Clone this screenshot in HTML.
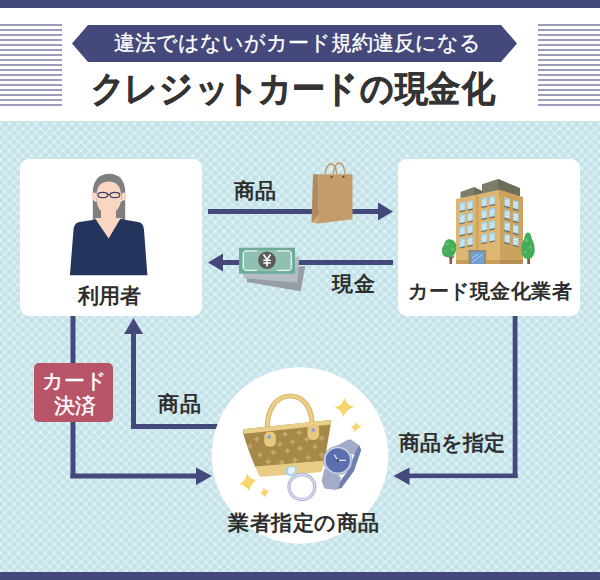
<!DOCTYPE html>
<html lang="ja">
<head>
<meta charset="utf-8">
<style>
html,body{margin:0;padding:0;}
body{width:600px;height:580px;position:relative;overflow:hidden;background:#fff;font-family:"Liberation Sans",sans-serif;}
.abs{position:absolute;}
#topbar{left:0;top:0;width:600px;height:8px;background:#45487a;}
#botbar{left:0;top:572px;width:600px;height:8px;background:#45487a;}
.stripes{top:24px;width:62px;height:82px;background:repeating-linear-gradient(to bottom,#9c9dbd 0,#9c9dbd 2px,transparent 2px,transparent 5px);}
#panel{left:0;top:121px;width:600px;height:451px;background-color:#c8e2e8;}
.txt{position:absolute;white-space:nowrap;color:#2e2e2e;font-weight:bold;line-height:1;}
.box{position:absolute;background:#fff;border-radius:9px;}
</style>
</head>
<body>
<div id="topbar" class="abs"></div>
<div class="abs stripes" style="left:0"></div>
<div class="abs stripes" style="left:538px"></div>

<svg class="abs" style="left:0;top:0" width="600" height="120">
<polygon points="72,43.5 88,25 501,25 517,43.5 501,62 88,62" fill="#45487a"/>
</svg>
<div class="txt" style="left:113.5px;top:32px;font-size:21px;color:#fff;font-weight:normal;-webkit-text-stroke:0.35px #fff;">違法ではないがカード規約違反になる</div>
<div class="txt" style="left:90px;top:71px;font-size:36px;color:#333;transform:scaleX(0.922);transform-origin:0 0;-webkit-text-stroke:0.6px #333;"><span style="position:relative;left:0.8px">ク</span><span style="position:relative;left:0.4px">レ</span><span style="position:relative;left:0.8px">ジ</span><span style="position:relative;left:3px">ッ</span><span style="position:relative;left:-1.4px">ト</span><span style="position:relative;left:-3.3px">カ</span><span style="position:relative;left:-3.3px">ー</span><span style="position:relative;left:-3.8px">ド</span><span style="position:relative;left:-2.5px">の</span><span style="position:relative;left:-1.1px">現</span><span style="position:relative;left:-2.2px">金</span><span style="position:relative;left:-0.4px">化</span></div>

<div id="panel" class="abs">
<svg width="600" height="451" style="position:absolute;left:0;top:0">
<defs>
<pattern id="pt" patternUnits="userSpaceOnUse" width="8.94" height="8.94" x="0.5" y="3.1">
<rect x="-1" y="-1" width="11" height="11" fill="#c7e2e7"/>
<path d="M-2,2 L2,-2 M-2,10.94 L10.94,-2 M6.94,10.94 L10.94,6.94" stroke="#e0fbff" stroke-opacity="0.42" stroke-width="1.5"/>
<path d="M-2,6.94 L2,10.94 M-2,-2 L10.94,10.94 M6.94,-2 L10.94,2" stroke="#e0fbff" stroke-opacity="0.42" stroke-width="1.5"/>
<g fill="#dcf6fb"><circle cx="0" cy="0" r="1.45"/><circle cx="8.94" cy="0" r="1.45"/><circle cx="0" cy="8.94" r="1.45"/><circle cx="8.94" cy="8.94" r="1.45"/><circle cx="4.47" cy="4.47" r="1.45"/></g>
</pattern>
</defs>
<rect width="600" height="451" fill="url(#pt)"/>
</svg>
</div>
<div id="botbar" class="abs"></div>

<!-- boxes -->
<div class="box" style="left:20px;top:159px;width:182px;height:157px;"></div>
<div class="box" style="left:398px;top:159px;width:182px;height:157px;"></div>

<!-- arrows & circle -->
<svg class="abs" style="left:0;top:0" width="600" height="580">
<g fill="#45487a">
<!-- top arrow -->
<rect x="208" y="209" width="171" height="5"/>
<polygon points="378,202.5 393,211.5 378,220.5"/>
<!-- cash arrow -->
<rect x="222" y="260" width="171" height="5"/>
<polygon points="223,253.5 208,262.5 223,271.5"/>
<!-- left down-right path -->
<rect x="70.5" y="316" width="5" height="162"/>
<rect x="70.5" y="473.5" width="126" height="5"/>
<polygon points="196,467.5 212,476 196,485"/>
<!-- up arrow path -->
<rect x="131" y="333" width="5" height="96"/>
<rect x="131" y="424" width="90" height="5"/>
<polygon points="124,334 133.5,318 143,334"/>
<!-- right path -->
<rect x="512.7" y="316" width="4.8" height="162"/>
<rect x="408" y="473.5" width="109.5" height="4.6"/>
<polygon points="409.5,467.5 393.5,476 409.5,485"/>
</g>
<circle cx="300" cy="455.5" r="88.3" fill="#fff"/>
</svg>


<!-- icons -->
<svg class="abs" style="left:0;top:0" width="600" height="580">
<!-- person -->
<g id="person">
<path d="M92.8,221 L92.8,192 C92.8,180 100,173.8 109,173.8 C118.5,173.8 125.2,180 125.2,192 L125.2,221 Z" fill="#7f7f7f"/>
<ellipse cx="94.3" cy="196.5" rx="2.6" ry="4" fill="#f9d6c1"/>
<ellipse cx="123.9" cy="196.5" rx="2.6" ry="4" fill="#f9d6c1"/>
<path d="M96.4,197 C96.4,186 101,181.5 108.8,181.5 C116.6,181.5 121.2,186 121.2,197 C121.2,204 119,208 116,211 L116,224 L101,224 L101,211 C98,208 96.4,204 96.4,197 Z" fill="#f9d6c1"/>
<polygon points="95,218 122,218 108.6,240" fill="#f9d6c1"/>
<circle cx="95.6" cy="200.4" r="1" fill="#fff"/>
<circle cx="121.6" cy="200.4" r="1" fill="#fff"/>
<g fill="none" stroke="#3c3d6c" stroke-width="1.2">
<ellipse cx="102.8" cy="195" rx="4.9" ry="2.7"/>
<ellipse cx="114.9" cy="195" rx="4.9" ry="2.7"/>
<path d="M107.7,194.5 L110,194.5"/>
</g>
<path d="M95.8,219.6 L108.6,238.5 L120.2,219 L138,222 C143,223 143.5,226 144,230 L147.4,275.2 L69.9,275.2 L73.5,230 C74,226 75,223 79.5,222 Z" fill="#25345d"/>
</g>

<!-- shopping bag -->
<g id="sbag">
<path d="M325.5,177 C325,170 327,164 331,164 C335,164 337,170 336.5,177" fill="none" stroke="#c39a6b" stroke-width="1.4"/>
<path d="M333.2,177 C333,169 336,163 339,163 C343,163 345.5,169 344.7,177" fill="none" stroke="#c39a6b" stroke-width="1.4"/>
<polygon points="313,174.3 318.2,174.3 318.2,223.4 311.5,222.2" fill="#b48a5c"/>
<polygon points="318.2,174.3 352.5,174.3 352.5,219.2 318.2,223.4" fill="#c49b6b"/>
<polygon points="311.5,222.2 318.2,215 318.2,223.4" fill="#d0a878"/>
<circle cx="331.6" cy="176.9" r="1.1" fill="#5d4a36"/>
<circle cx="343.5" cy="176.9" r="1.1" fill="#5d4a36"/>
</g>

<!-- money -->
<g id="money">
<polygon points="246.7,272 305.3,266 300.7,291.3 246.7,282" fill="#959ea4"/>
<polygon points="243.3,270 299.3,256.3 297.3,282.7 243.3,278" fill="#b4bdc3"/>
<rect x="239" y="247.7" width="56" height="26" fill="#6aab9b"/>
<path d="M244.5,250 L290,250 L292.3,252.6 L292.3,268.7 L290,271.3 L244.5,271.3 L242.2,268.7 L242.2,252.6 Z" fill="#8fc0b1"/>
<path d="M257,251 L245,251 L243.3,253 L243.3,268.3 L245,270.3 L257,270.3 M277,251 L289.5,251 L291.2,253 L291.2,268.3 L289.5,270.3 L277,270.3" fill="none" stroke="#fff" stroke-width="1"/>
<circle cx="267" cy="260.3" r="8.8" fill="#5b5b5b"/>
<path d="M263.5,254.5 L267,259.5 L270.5,254.5 M267,259.5 L267,266.5 M263.3,260.3 L270.7,260.3 M263.3,263 L270.7,263" fill="none" stroke="#fff" stroke-width="1.6"/>
</g>

<!-- building -->
<g id="building">
<polygon points="460.5,192 474,187 482,191 482,199 460.5,199" fill="#7e7d69"/>
<polygon points="474,187 482,191 482,199 474,199" fill="#6e6d5a"/>
<polygon points="482,184.3 498,179 520,188.3 520,197 482,197" fill="#7e7d69"/>
<polygon points="498,179 520,188.3 520,197 498,197" fill="#6e6d5a"/>
<polygon points="456,199 499.3,189.7 499.3,264 456,264" fill="#ddb672"/>
<polygon points="499.3,189.7 523,197 523,264 499.3,264" fill="#cca35e"/>
<rect x="475.5" y="196" width="3.5" height="54" fill="#cfa660"/>
<rect x="456" y="260" width="43.3" height="4" fill="#c69e5b"/>
<rect x="499.3" y="260" width="23.7" height="4" fill="#b48e52"/>
<g id="winL"><polygon points="459.7,202.70 464.9,201.66 464.9,210.06 459.7,211.10" fill="#9fd6f6"/><path d="M460.09999999999997,205.90 L464.5,203.90 M460.09999999999997,207.90 L464.5,205.90 M460.09999999999997,209.90 L464.5,207.90" stroke="#f4fbff" stroke-width="0.8"/><polygon points="459.4,211.10 465.2,210.06 465.2,211.26 459.4,212.30" fill="#6f6e60"/><polygon points="459.7,214.80 464.9,213.76 464.9,222.16 459.7,223.20" fill="#9fd6f6"/><path d="M460.09999999999997,218.00 L464.5,216.00 M460.09999999999997,220.00 L464.5,218.00 M460.09999999999997,222.00 L464.5,220.00" stroke="#f4fbff" stroke-width="0.8"/><polygon points="459.4,223.20 465.2,222.16 465.2,223.36 459.4,224.40" fill="#6f6e60"/><polygon points="459.7,226.90 464.9,225.86 464.9,234.26 459.7,235.30" fill="#9fd6f6"/><path d="M460.09999999999997,230.10 L464.5,228.10 M460.09999999999997,232.10 L464.5,230.10 M460.09999999999997,234.10 L464.5,232.10" stroke="#f4fbff" stroke-width="0.8"/><polygon points="459.4,235.30 465.2,234.26 465.2,235.46 459.4,236.50" fill="#6f6e60"/><polygon points="459.7,239.00 464.9,237.96 464.9,246.36 459.7,247.40" fill="#9fd6f6"/><path d="M460.09999999999997,242.20 L464.5,240.20 M460.09999999999997,244.20 L464.5,242.20 M460.09999999999997,246.20 L464.5,244.20" stroke="#f4fbff" stroke-width="0.8"/><polygon points="459.4,247.40 465.2,246.36 465.2,247.56 459.4,248.60" fill="#6f6e60"/><polygon points="467.4,201.16 472.59999999999997,200.12 472.59999999999997,208.52 467.4,209.56" fill="#9fd6f6"/><path d="M467.79999999999995,204.36 L472.2,202.36 M467.79999999999995,206.36 L472.2,204.36 M467.79999999999995,208.36 L472.2,206.36" stroke="#f4fbff" stroke-width="0.8"/><polygon points="467.09999999999997,209.56 472.9,208.52 472.9,209.72 467.09999999999997,210.76" fill="#6f6e60"/><polygon points="467.4,213.26 472.59999999999997,212.22 472.59999999999997,220.62 467.4,221.66" fill="#9fd6f6"/><path d="M467.79999999999995,216.46 L472.2,214.46 M467.79999999999995,218.46 L472.2,216.46 M467.79999999999995,220.46 L472.2,218.46" stroke="#f4fbff" stroke-width="0.8"/><polygon points="467.09999999999997,221.66 472.9,220.62 472.9,221.82 467.09999999999997,222.86" fill="#6f6e60"/><polygon points="467.4,225.36 472.59999999999997,224.32 472.59999999999997,232.72 467.4,233.76" fill="#9fd6f6"/><path d="M467.79999999999995,228.56 L472.2,226.56 M467.79999999999995,230.56 L472.2,228.56 M467.79999999999995,232.56 L472.2,230.56" stroke="#f4fbff" stroke-width="0.8"/><polygon points="467.09999999999997,233.76 472.9,232.72 472.9,233.92 467.09999999999997,234.96" fill="#6f6e60"/><polygon points="467.4,237.46 472.59999999999997,236.42 472.59999999999997,244.82 467.4,245.86" fill="#9fd6f6"/><path d="M467.79999999999995,240.66 L472.2,238.66 M467.79999999999995,242.66 L472.2,240.66 M467.79999999999995,244.66 L472.2,242.66" stroke="#f4fbff" stroke-width="0.8"/><polygon points="467.09999999999997,245.86 472.9,244.82 472.9,246.02 467.09999999999997,247.06" fill="#6f6e60"/><polygon points="481.6,198.32 486.8,197.28 486.8,205.68 481.6,206.72" fill="#9fd6f6"/><path d="M482.0,201.52 L486.40000000000003,199.52 M482.0,203.52 L486.40000000000003,201.52 M482.0,205.52 L486.40000000000003,203.52" stroke="#f4fbff" stroke-width="0.8"/><polygon points="481.3,206.72 487.1,205.68 487.1,206.88 481.3,207.92" fill="#6f6e60"/><polygon points="481.6,210.42 486.8,209.38 486.8,217.78 481.6,218.82" fill="#9fd6f6"/><path d="M482.0,213.62 L486.40000000000003,211.62 M482.0,215.62 L486.40000000000003,213.62 M482.0,217.62 L486.40000000000003,215.62" stroke="#f4fbff" stroke-width="0.8"/><polygon points="481.3,218.82 487.1,217.78 487.1,218.98 481.3,220.02" fill="#6f6e60"/><polygon points="481.6,222.52 486.8,221.48 486.8,229.88 481.6,230.92" fill="#9fd6f6"/><path d="M482.0,225.72 L486.40000000000003,223.72 M482.0,227.72 L486.40000000000003,225.72 M482.0,229.72 L486.40000000000003,227.72" stroke="#f4fbff" stroke-width="0.8"/><polygon points="481.3,230.92 487.1,229.88 487.1,231.08 481.3,232.12" fill="#6f6e60"/><polygon points="481.6,234.62 486.8,233.58 486.8,241.98 481.6,243.02" fill="#9fd6f6"/><path d="M482.0,237.82 L486.40000000000003,235.82 M482.0,239.82 L486.40000000000003,237.82 M482.0,241.82 L486.40000000000003,239.82" stroke="#f4fbff" stroke-width="0.8"/><polygon points="481.3,243.02 487.1,241.98 487.1,243.18 481.3,244.22" fill="#6f6e60"/><polygon points="489.5,196.74 494.7,195.70 494.7,204.10 489.5,205.14" fill="#9fd6f6"/><path d="M489.9,199.94 L494.3,197.94 M489.9,201.94 L494.3,199.94 M489.9,203.94 L494.3,201.94" stroke="#f4fbff" stroke-width="0.8"/><polygon points="489.2,205.14 495.0,204.10 495.0,205.30 489.2,206.34" fill="#6f6e60"/><polygon points="489.5,208.84 494.7,207.80 494.7,216.20 489.5,217.24" fill="#9fd6f6"/><path d="M489.9,212.04 L494.3,210.04 M489.9,214.04 L494.3,212.04 M489.9,216.04 L494.3,214.04" stroke="#f4fbff" stroke-width="0.8"/><polygon points="489.2,217.24 495.0,216.20 495.0,217.40 489.2,218.44" fill="#6f6e60"/><polygon points="489.5,220.94 494.7,219.90 494.7,228.30 489.5,229.34" fill="#9fd6f6"/><path d="M489.9,224.14 L494.3,222.14 M489.9,226.14 L494.3,224.14 M489.9,228.14 L494.3,226.14" stroke="#f4fbff" stroke-width="0.8"/><polygon points="489.2,229.34 495.0,228.30 495.0,229.50 489.2,230.54" fill="#6f6e60"/><polygon points="489.5,233.04 494.7,232.00 494.7,240.40 489.5,241.44" fill="#9fd6f6"/><path d="M489.9,236.24 L494.3,234.24 M489.9,238.24 L494.3,236.24 M489.9,240.24 L494.3,238.24" stroke="#f4fbff" stroke-width="0.8"/><polygon points="489.2,241.44 495.0,240.40 495.0,241.60 489.2,242.64" fill="#6f6e60"/><polygon points="504.5,197.30 510.0,199.01 510.0,207.41 504.5,205.70" fill="#9fd6f6"/><path d="M504.9,200.80 L509.6,199.80 M504.9,202.90 L509.6,201.90 M504.9,204.90 L509.6,203.90" stroke="#f4fbff" stroke-width="0.8"/><polygon points="504.2,205.70 510.3,207.41 510.3,208.61 504.2,206.90" fill="#6f6e60"/><polygon points="504.5,209.40 510.0,211.11 510.0,219.51 504.5,217.80" fill="#9fd6f6"/><path d="M504.9,212.90 L509.6,211.90 M504.9,215.00 L509.6,214.00 M504.9,217.00 L509.6,216.00" stroke="#f4fbff" stroke-width="0.8"/><polygon points="504.2,217.80 510.3,219.51 510.3,220.71 504.2,219.00" fill="#6f6e60"/><polygon points="504.5,221.50 510.0,223.21 510.0,231.61 504.5,229.90" fill="#9fd6f6"/><path d="M504.9,225.00 L509.6,224.00 M504.9,227.10 L509.6,226.10 M504.9,229.10 L509.6,228.10" stroke="#f4fbff" stroke-width="0.8"/><polygon points="504.2,229.90 510.3,231.61 510.3,232.81 504.2,231.10" fill="#6f6e60"/><polygon points="504.5,233.60 510.0,235.31 510.0,243.71 504.5,242.00" fill="#9fd6f6"/><path d="M504.9,237.10 L509.6,236.10 M504.9,239.20 L509.6,238.20 M504.9,241.20 L509.6,240.20" stroke="#f4fbff" stroke-width="0.8"/><polygon points="504.2,242.00 510.3,243.71 510.3,244.91 504.2,243.20" fill="#6f6e60"/><polygon points="513,199.94 518.5,201.64 518.5,210.04 513,208.34" fill="#9fd6f6"/><path d="M513.4,203.44 L518.1,202.44 M513.4,205.53 L518.1,204.53 M513.4,207.53 L518.1,206.53" stroke="#f4fbff" stroke-width="0.8"/><polygon points="512.7,208.34 518.8,210.04 518.8,211.24 512.7,209.53" fill="#6f6e60"/><polygon points="513,212.03 518.5,213.74 518.5,222.14 513,220.44" fill="#9fd6f6"/><path d="M513.4,215.53 L518.1,214.53 M513.4,217.63 L518.1,216.63 M513.4,219.63 L518.1,218.63" stroke="#f4fbff" stroke-width="0.8"/><polygon points="512.7,220.44 518.8,222.14 518.8,223.34 512.7,221.63" fill="#6f6e60"/><polygon points="513,224.13 518.5,225.84 518.5,234.24 513,232.53" fill="#9fd6f6"/><path d="M513.4,227.63 L518.1,226.63 M513.4,229.73 L518.1,228.73 M513.4,231.73 L518.1,230.73" stroke="#f4fbff" stroke-width="0.8"/><polygon points="512.7,232.53 518.8,234.24 518.8,235.44 512.7,233.73" fill="#6f6e60"/><polygon points="513,236.24 518.5,237.94 518.5,246.34 513,244.64" fill="#9fd6f6"/><path d="M513.4,239.74 L518.1,238.74 M513.4,241.84 L518.1,240.84 M513.4,243.84 L518.1,242.84" stroke="#f4fbff" stroke-width="0.8"/><polygon points="512.7,244.64 518.8,246.34 518.8,247.54 512.7,245.84" fill="#6f6e60"/></g>
<rect x="468" y="250" width="18.3" height="2" fill="#8f8d7c"/>
<rect x="468.5" y="252" width="2.5" height="12" fill="#8f8d7c"/>
<rect x="483.5" y="252" width="2.5" height="12" fill="#8f8d7c"/>
<rect x="471" y="252" width="12.5" height="12" fill="#6f9fd4"/>
<path d="M472,262 L482,255 M472,258 L478,254" stroke="#b6d3f0" stroke-width="1"/>
<!-- trees -->
<rect x="449.5" y="254" width="2.5" height="10" fill="#8a5a3c"/>
<path d="M450.5,258 L447,255 M451,259 L454,256" stroke="#8a5a3c" stroke-width="1.2"/>
<path d="M449,239.2 C453,239.2 456.3,242 456.3,246 C456.3,249 456.3,254 452,256.5 C448,257.8 444,257.5 442.5,254 C441.5,251 442,247 444,245 C444.5,241.5 446.5,239.2 449,239.2 Z" fill="#43ad5a"/>
<g fill="#62c274" opacity="0.8"><ellipse cx="447" cy="244" rx="2.5" ry="1.8"/><ellipse cx="452.5" cy="249" rx="2" ry="1.5"/><ellipse cx="445.5" cy="251" rx="1.6" ry="1.2"/></g>
<rect x="527.2" y="254" width="2.8" height="10" fill="#8a5a3c"/>
<path d="M528,232.5 C530.5,232.5 531.5,236 531.8,239 C534,242 534.7,246 534.7,250 C534.7,255 532,259.2 528,259.2 C524,259.2 521.3,255 521.3,250 C521.3,246 522,242 524.2,239 C524.5,236 525.5,232.5 528,232.5 Z" fill="#43ad5a"/>
<g fill="#62c274" opacity="0.8"><ellipse cx="526.5" cy="240" rx="1.8" ry="2.2"/><ellipse cx="530.5" cy="247" rx="1.8" ry="1.6"/><ellipse cx="525" cy="252" rx="1.6" ry="1.4"/></g>
</g>

<!-- sparkles -->
<g fill="#f8d56a">
<path d="M344.4,397.8 Q346,405.5 354.7,406.4 Q346.5,408.5 343.1,417.6 Q342,409 334.5,407.7 Q343,405.5 344.4,397.8 Z"/>
<path d="M356.9,421.7 Q357.5,426 361.6,427 Q357.5,428 354.3,432.2 Q354.5,428 350.4,426.6 Q355.5,425.5 356.9,421.7 Z"/>
<path d="M247.1,472.9 Q250,480.5 257.1,479.6 Q251,483 249.2,491.25 Q246,485 239.2,484.2 Q246,481 247.1,472.9 Z"/>
<path d="M263.3,487 Q265,491 269.6,491.25 Q266,493 265.4,497.5 Q263,494 260,493.3 Q263.5,491.5 263.3,487 Z"/>
</g>

<!-- handbag -->
<g id="hbag">
<path d="M267.5,430 C266,412 275,396 290,396 C305,396 313,410 312,428" fill="none" stroke="#d8b86e" stroke-width="5.2"/>
<path d="M267.5,430 C266,412 275,396 290,396 C305,396 313,410 312,428" fill="none" stroke="#ebcf86" stroke-width="3"/>
<path d="M243.3,429.2 L330.8,420 L330.8,424 L324.5,461 L255.3,467 C250,455 246,443 243.3,433.5 Z" fill="#a68949"/>
<polygon points="243.3,429.2 330.8,420 330.8,424.5 244,433.8" fill="#e9cf8a"/>
<path d="M255.3,466.5 L324.2,460.8 L322,470.5 C321.5,472 320.5,472 319,472.2 L262,476.8 C260.5,477 259.5,476.5 258.8,475 Z" fill="#e8cc85"/>
<g id="stars" fill="#c3a76c"><path d="M256.7,435.90 Q257.52,438.38 260.00,439.2 Q257.52,440.02 256.7,442.50 Q255.88,440.02 253.40,439.2 Q255.88,438.38 256.7,435.90 Z"/><path d="M285,430.90 Q285.82,433.38 288.30,434.2 Q285.82,435.02 285,437.50 Q284.18,435.02 281.70,434.2 Q284.18,433.38 285,430.90 Z"/><path d="M299.2,429.20 Q300.02,431.68 302.50,432.5 Q300.02,433.32 299.2,435.80 Q298.38,433.32 295.90,432.5 Q298.38,431.68 299.2,429.20 Z"/><path d="M273.3,449.20 Q274.12,451.68 276.60,452.5 Q274.12,453.32 273.3,455.80 Q272.48,453.32 270.00,452.5 Q272.48,451.68 273.3,449.20 Z"/><path d="M292.5,438.40 Q293.32,440.88 295.80,441.7 Q293.32,442.52 292.5,445.00 Q291.68,442.52 289.20,441.7 Q291.68,440.88 292.5,438.40 Z"/><path d="M280,440.90 Q280.82,443.38 283.30,444.2 Q280.82,445.02 280,447.50 Q279.18,445.02 276.70,444.2 Q279.18,443.38 280,440.90 Z"/><path d="M260,451.70 Q260.82,454.18 263.30,455 Q260.82,455.82 260,458.30 Q259.18,455.82 256.70,455 Q259.18,454.18 260,451.70 Z"/><path d="M268.3,458.40 Q269.12,460.88 271.60,461.7 Q269.12,462.52 268.3,465.00 Q267.48,462.52 265.00,461.7 Q267.48,460.88 268.3,458.40 Z"/><path d="M281.7,459.20 Q282.52,461.68 285.00,462.5 Q282.52,463.32 281.7,465.80 Q280.88,463.32 278.40,462.5 Q280.88,461.68 281.7,459.20 Z"/><path d="M287.5,447.50 Q288.32,449.98 290.80,450.8 Q288.32,451.62 287.5,454.10 Q286.68,451.62 284.20,450.8 Q286.68,449.98 287.5,447.50 Z"/><path d="M300,445.00 Q300.82,447.48 303.30,448.3 Q300.82,449.12 300,451.60 Q299.18,449.12 296.70,448.3 Q299.18,447.48 300,445.00 Z"/><path d="M306.7,435.90 Q307.52,438.38 310.00,439.2 Q307.52,440.02 306.7,442.50 Q305.88,440.02 303.40,439.2 Q305.88,438.38 306.7,435.90 Z"/><path d="M315,443.40 Q315.82,445.88 318.30,446.7 Q315.82,447.52 315,450.00 Q314.18,447.52 311.70,446.7 Q314.18,445.88 315,443.40 Z"/><path d="M321.7,435.00 Q322.52,437.48 325.00,438.3 Q322.52,439.12 321.7,441.60 Q320.88,439.12 318.40,438.3 Q320.88,437.48 321.7,435.00 Z"/><path d="M308.3,454.20 Q309.12,456.68 311.60,457.5 Q309.12,458.32 308.3,460.80 Q307.48,458.32 305.00,457.5 Q307.48,456.68 308.3,454.20 Z"/><path d="M295,456.70 Q295.82,459.18 298.30,460 Q295.82,460.82 295,463.30 Q294.18,460.82 291.70,460 Q294.18,459.18 295,456.70 Z"/><path d="M321.7,451.70 Q322.52,454.18 325.00,455 Q322.52,455.82 321.7,458.30 Q320.88,455.82 318.40,455 Q320.88,454.18 321.7,451.70 Z"/><path d="M250,442.70 Q250.82,445.18 253.30,446 Q250.82,446.82 250,449.30 Q249.18,446.82 246.70,446 Q249.18,445.18 250,442.70 Z"/></g>
<rect x="264.2" y="431.7" width="11.6" height="15" rx="5" fill="#e6c77c"/>
<rect x="307.5" y="424" width="11.6" height="16" rx="5" fill="#e6c77c"/>
<circle cx="269.2" cy="436.9" r="1.9" fill="#8ea2d4"/>
<circle cx="313.3" cy="430" r="1.9" fill="#8ea2d4"/>
</g>

<!-- ring -->
<g id="ring">
<ellipse cx="301.9" cy="487" rx="12.9" ry="12.5" fill="none" stroke="#aab0d2" stroke-width="3.3"/>
<ellipse cx="301.9" cy="487" rx="12.9" ry="12.5" fill="none" stroke="#dfe2f1" stroke-width="1.3"/>
<polygon points="287,466.6 296.3,466.2 296.7,471.6 291.6,476.7 284.7,473.6" fill="#a9d3ea"/>
<polygon points="288.5,467.5 294.5,467.3 295,471 291.5,474.5 288,472.5" fill="#e3f5fa"/>
</g>

<!-- watch -->
<g id="watch">
<polygon points="333,448 347.5,439.7 351,439.5 359.5,445.5 361,450 355,455 345,452" fill="#a2acc8"/>
<polygon points="359,445.5 361.2,450 354,471 341.5,488 335.5,489.5 339,483 349,469 355.5,452" fill="#6f80b0"/>
<polygon points="321.5,481 324.5,468.5 334,472 341,477.5 339,486.5 336,490 324.5,488.5" fill="#a2acc8"/>
<circle cx="337.8" cy="460.4" r="14.4" fill="#c9d0e4" stroke="#8e9ac0" stroke-width="0.7"/>
<circle cx="337.8" cy="460.4" r="12.1" fill="#5b6fae"/>
<path d="M337.8,460.4 L334.3,454.5 M337.8,460.4 L346,460.2" stroke="#eef1fa" stroke-width="1.1"/>
<circle cx="337.8" cy="460.4" r="1.2" fill="#2a3150"/>
</g>
</svg>

<!-- red label -->
<div class="abs" style="left:34px;top:363px;width:79px;height:59px;background:#b85467;border-radius:5px;"></div>
<div class="txt" style="left:35px;top:369px;width:79px;text-align:center;font-size:21px;line-height:24.5px;color:#fff;font-weight:normal;-webkit-text-stroke:0.45px #fff;">カード<br>決済</div>

<!-- labels -->
<div class="txt" style="left:234px;top:180px;font-size:21px;">商品</div>
<div class="txt" style="left:332px;top:272.5px;font-size:21px;letter-spacing:1px;">現金</div>
<div class="txt" style="left:78px;top:285px;font-size:21px;">利用者</div>
<div class="txt" style="left:408px;top:281px;font-size:20px;letter-spacing:0.5px;">カード現金化業者</div>
<div class="txt" style="left:158px;top:393px;font-size:21px;letter-spacing:1px;">商品</div>
<div class="txt" style="left:399px;top:432px;font-size:21px;">商品を指定</div>
<div class="txt" style="left:228px;top:512px;font-size:21px;letter-spacing:0.5px;">業者指定の商品</div>

</body>
</html>
